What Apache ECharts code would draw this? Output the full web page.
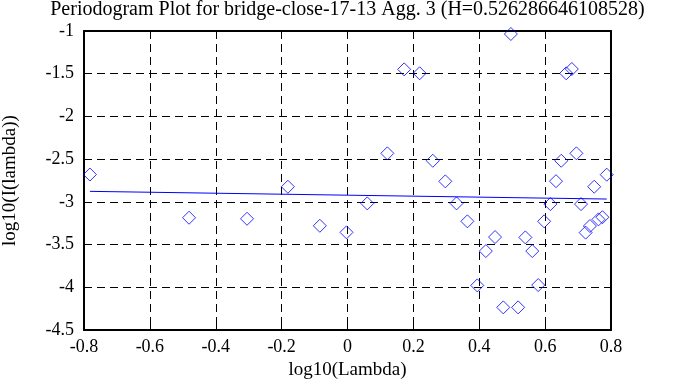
<!DOCTYPE html>
<html>
<head>
<meta charset="utf-8">
<script src="https://cdn.jsdelivr.net/npm/echarts@6/dist/echarts.min.js"></script>
<style>
html,body{margin:0;padding:0;background:#fff;}
#chart{width:695px;height:387px;}
</style>
</head>
<body>
<div id="chart"></div>
<script>
const titleText = 'Periodogram Plot for bridge-close-17-13 Agg. 3 (H=0.526286646108528)';
const xName = 'log10(Lambda)';
const yName = 'log10(I(lambda))';
const logLambda = [-0.782,-0.481,-0.305,-0.181,-0.084,-0.003,0.060,0.121,0.172,0.219,0.259,0.297,0.331,0.364,0.394,0.420,0.448,0.473,0.496,0.518,0.540,0.561,0.579,0.597,0.616,0.633,0.649,0.664,0.681,0.695,0.709,0.723,0.736,0.749,0.762,0.774,0.787];
const logI = [-2.68,-3.186,-3.198,-2.823,-3.28,-3.357,-3.018,-2.432,-1.449,-1.495,-2.519,-2.76,-3.018,-3.228,-3.978,-3.576,-3.412,-4.235,-1.035,-4.235,-3.416,-3.576,-3.974,-3.228,-3.026,-2.758,-2.519,-1.495,-1.445,-2.432,-3.026,-3.36,-3.283,-2.823,-3.205,-3.18,-2.682];
const fitX = [-0.782, 0.787];
const fitY = [-2.877, -2.967];
const xTicks = {min:-0.8, max:0.8, interval:0.2};
const yTicks = {min:-4.5, max:-1, interval:0.5};

const font = 'Liberation Serif';
const pts = logLambda.map((x,i)=>[x, logI[i]]);
const fit = fitX.map((x,i)=>[x, fitY[i]]);
const gridLine = {show:true, lineStyle:{color:'#000', type:[8,5], width:1}};
const tick = {show:true, inside:true, length:6, lineStyle:{color:'#000', width:1}};
const line = {show:true, onZero:false, lineStyle:{color:'#000', width:2}};

const chart = echarts.init(document.getElementById('chart'));
chart.setOption({
  animation:false,
  backgroundColor:'#fff',
  title:{text:titleText, left:'center', top:0, padding:0, textStyle:{fontFamily:font, fontSize:20, fontWeight:'normal', color:'#000'}},
  grid:{left:84, right:84, top:31, bottom:57, containLabel:false, outerBoundsMode:'none'},
  xAxis:[{
    type:'value', min:xTicks.min, max:xTicks.max, interval:xTicks.interval,
    name:xName, nameLocation:'middle', nameGap:31,
    nameTextStyle:{fontFamily:font, fontSize:19, color:'#000'},
    axisLine:line, axisTick:tick, splitLine:gridLine,
    axisLabel:{fontFamily:font, fontSize:18, color:'#000', margin:8}
  },{
    type:'value', position:'top', min:xTicks.min, max:xTicks.max, interval:xTicks.interval,
    axisLine:line, axisTick:tick, splitLine:{show:false}, axisLabel:{show:false}
  }],
  yAxis:[{
    type:'value', min:yTicks.min, max:yTicks.max, interval:yTicks.interval,
    name:yName, nameLocation:'middle', nameGap:64,
    nameTextStyle:{fontFamily:font, fontSize:19, color:'#000'},
    axisLine:line, axisTick:tick, splitLine:gridLine,
    axisLabel:{fontFamily:font, fontSize:18, color:'#000', margin:10}
  },{
    type:'value', position:'right', min:yTicks.min, max:yTicks.max, interval:yTicks.interval,
    axisLine:line, axisTick:tick, splitLine:{show:false}, axisLabel:{show:false}
  }],
  series:[{
    type:'scatter', data:pts, symbol:'diamond', symbolSize:13,
    itemStyle:{color:'transparent', borderColor:'#0000ff', borderWidth:1}
  },{
    type:'line', data:fit, symbol:'none', lineStyle:{color:'#0000ff', width:1}
  }]
});
</script>
</body>
</html>
